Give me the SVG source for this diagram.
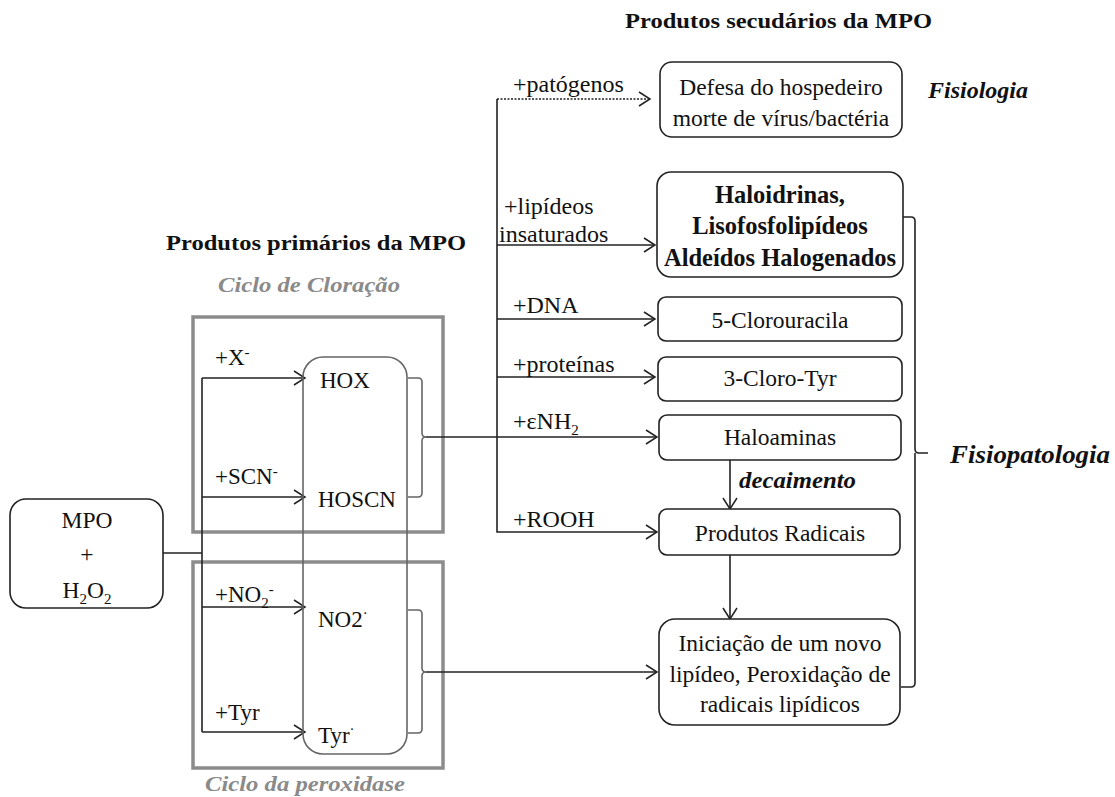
<svg xmlns="http://www.w3.org/2000/svg" width="1115" height="797" viewBox="0 0 1115 797" font-family="'Liberation Serif', 'Times New Roman', serif">
<defs>
<marker id="arr" markerUnits="userSpaceOnUse" markerWidth="14" markerHeight="16" refX="12" refY="8" orient="auto">
<path d="M1,1 L12,8 L1,15" fill="none" stroke="#222" stroke-width="1.5"/>
</marker>
<style>
text{font-family:'Liberation Serif','Times New Roman',serif;fill:#111;}
.t{font-size:23px;}
.r{font-size:24px;}
.tc{font-size:23.5px;text-anchor:middle;}
.b{font-size:24.5px;font-weight:bold;text-anchor:middle;}
.h{font-size:20px;font-weight:bold;}
.bi{font-weight:bold;font-style:italic;}
.gi{font-size:22px;font-style:italic;fill:#8a8a8a;font-weight:bold;}
.box{fill:#fff;stroke:#222;stroke-width:1.6;}
.gbox{fill:none;stroke:#8c8c8c;stroke-width:3.5;}
.ln{fill:none;stroke:#222;stroke-width:1.6;}
.gl{fill:none;stroke:#666;stroke-width:1.6;}
.sub{font-size:15px;}
</style>
</defs>
<rect width="1115" height="797" fill="#fff"/>

<!-- titles -->
<text class="h" x="625" y="28" textLength="307" lengthAdjust="spacingAndGlyphs">Produtos secudários da MPO</text>
<text class="h" x="166" y="250" textLength="300" lengthAdjust="spacingAndGlyphs">Produtos primários da MPO</text>
<text class="gi" x="218" y="292" textLength="182" lengthAdjust="spacingAndGlyphs">Ciclo de Cloração</text>
<text class="gi" x="205" y="791" textLength="200" lengthAdjust="spacingAndGlyphs">Ciclo da peroxidase</text>
<text class="bi" x="928" y="98" font-size="24">Fisiologia</text>
<text class="bi" x="950" y="463" font-size="26" textLength="160" lengthAdjust="spacingAndGlyphs">Fisiopatologia</text>

<!-- cycle boxes -->
<g id="ciclo-cloracao"><rect class="gbox" x="193" y="317" width="250" height="215"/></g>
<g id="ciclo-peroxidase"><rect class="gbox" x="193" y="562" width="250" height="206"/></g>

<!-- connectors -->
<g id="connectors">
<path class="ln" d="M163,553 H202"/>
<path class="ln" d="M202,378 V732"/>
<path class="ln" d="M202,378 H305" marker-end="url(#arr)"/>
<path class="ln" d="M202,497 H305" marker-end="url(#arr)"/>
<path class="ln" d="M202,607 H305" marker-end="url(#arr)"/>
<path class="ln" d="M202,732 H305" marker-end="url(#arr)"/>
<!-- brackets -->
<path class="gl" d="M408,378 H418 Q422,378 422,382 V433 Q422,437 426,437 Q422,437 422,441 V493 Q422,497 418,497 H408"/>
<path class="ln" d="M426,437 H657" marker-end="url(#arr)"/>
<path class="gl" d="M408,610 H418 Q422,610 422,614 V668 Q422,672 426,672 Q422,672 422,676 V729 Q422,733 418,733 H408"/>
<path class="ln" d="M426,672 H657" marker-end="url(#arr)"/>
<!-- right trunk -->
<path class="ln" d="M497,99 V532 H657" marker-end="url(#arr)"/>
<path class="ln" d="M497,99 H650" stroke-dasharray="2,1.5" marker-end="url(#arr)"/>
<path class="ln" d="M497,245 H655" marker-end="url(#arr)"/>
<path class="ln" d="M497,319 H655" marker-end="url(#arr)"/>
<path class="ln" d="M497,377 H655" marker-end="url(#arr)"/>
<path class="ln" d="M730,460 V509" marker-end="url(#arr)"/>
<path class="ln" d="M730,555 V619" marker-end="url(#arr)"/>
<!-- Fisiopatologia bracket -->
<path class="ln" d="M903,217 H911 Q915,217 915,221 V449 Q915,453 919,453 H928 M915,453 V683 Q915,687 911,687 H901"/>
</g>

<!-- connector labels -->
<g id="labels">
<text class="t" x="215" y="365">+X<tspan class="sub" dy="-8">-</tspan></text>
<text class="t" x="215" y="484">+SCN<tspan class="sub" dy="-8">-</tspan></text>
<text class="t" x="215" y="602">+NO<tspan class="sub" dy="6">2</tspan><tspan class="sub" dy="-14">-</tspan></text>
<text class="t" x="215" y="720">+Tyr</text>
<text class="r" x="513" y="92">+patógenos</text>
<text class="r" x="504" y="214">+lipídeos</text>
<text class="r" x="499" y="242">insaturados</text>
<text class="r" x="513" y="313">+DNA</text>
<text class="r" x="513" y="372">+proteínas</text>
<text class="r" x="513" y="429">+εNH<tspan class="sub" dy="6">2</tspan></text>
<text class="r" x="513" y="527">+ROOH</text>
<text class="bi" x="739" y="488" font-size="23" textLength="117" lengthAdjust="spacingAndGlyphs">decaimento</text>
</g>

<!-- nodes -->
<g id="mpo">
<rect class="box" x="10" y="499" width="153" height="109" rx="16"/>
<text class="tc" x="87" y="528" font-size="24">MPO</text>
<text class="tc" x="87" y="562">+</text>
<text class="tc" x="87" y="598">H<tspan class="sub" dy="6">2</tspan><tspan dy="-6">O</tspan><tspan class="sub" dy="6">2</tspan></text>
</g>

<g id="produtos-primarios">
<rect class="gl" x="303" y="357" width="104" height="397" rx="20"/>
<text class="t" x="320" y="388">HOX</text>
<text class="t" x="318" y="507">HOSCN</text>
<text class="t" x="318" y="627">NO2<tspan class="sub" dy="-9">·</tspan></text>
<text class="t" x="318" y="743">Tyr<tspan class="sub" dy="-9">·</tspan></text>
</g>

<g id="defesa">
<rect class="box" x="660" y="62" width="242" height="75" rx="12"/>
<text class="tc" x="781" y="95">Defesa do hospedeiro</text>
<text class="tc" x="781" y="126">morte de vírus/bactéria</text>
</g>

<g id="haloidrinas">
<rect class="box" x="657" y="172" width="246" height="105" rx="14"/>
<text class="b" x="780" y="203">Haloidrinas,</text>
<text class="b" x="780" y="234">Lisofosfolipídeos</text>
<text class="b" x="780" y="266">Aldeídos Halogenados</text>
</g>

<g id="clorouracila">
<rect class="box" x="658" y="297" width="244" height="44" rx="8"/>
<text class="tc" x="780" y="328">5-Clorouracila</text>
</g>

<g id="cloro-tyr">
<rect class="box" x="658" y="357" width="244" height="44" rx="8"/>
<text class="tc" x="780" y="386">3-Cloro-Tyr</text>
</g>

<g id="haloaminas">
<rect class="box" x="659" y="415" width="242" height="45" rx="8"/>
<text class="tc" x="780" y="445">Haloaminas</text>
</g>

<g id="produtos-radicais">
<rect class="box" x="659" y="509" width="241" height="46" rx="8"/>
<text class="tc" x="780" y="541">Produtos Radicais</text>
</g>

<g id="iniciacao">
<rect class="box" x="659" y="619" width="241" height="106" rx="16"/>
<text class="tc" x="780" y="651">Iniciação de um novo</text>
<text class="tc" x="780" y="682">lipídeo, Peroxidação de</text>
<text class="tc" x="780" y="712">radicais lipídicos</text>
</g>
</svg>
